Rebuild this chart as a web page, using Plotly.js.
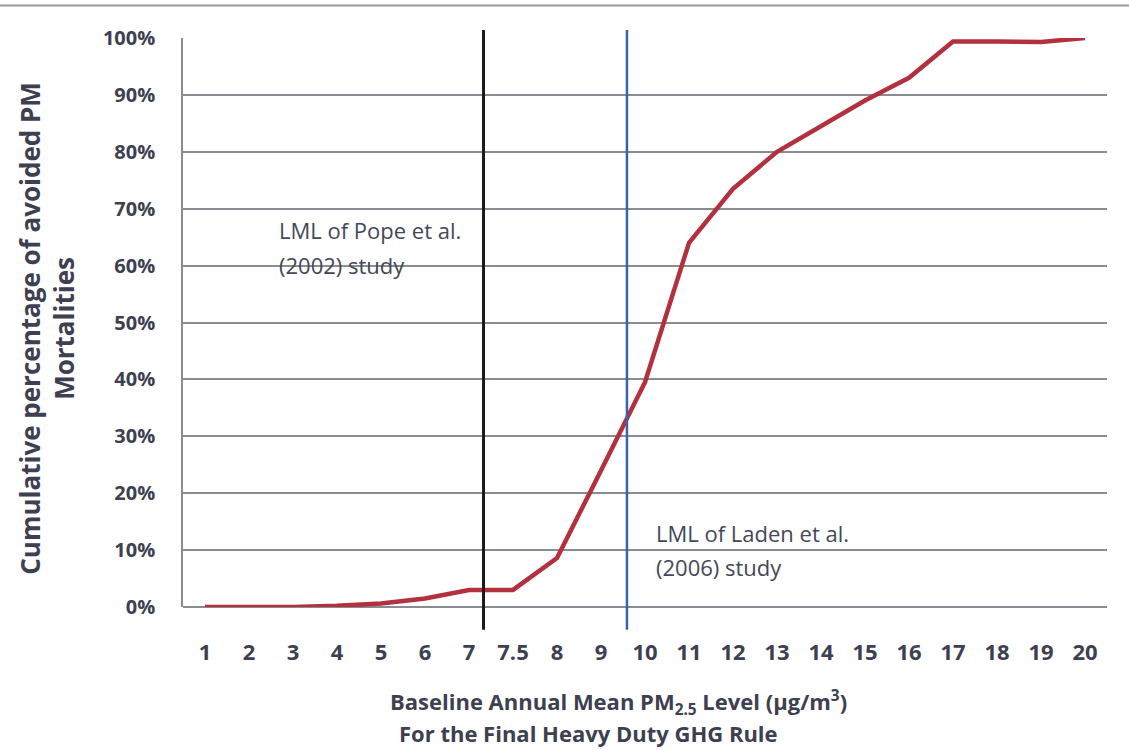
<!DOCTYPE html>
<html>
<head>
<meta charset="utf-8">
<script src="https://cdn.plot.ly/plotly-3.0.1.min.js"></script>
<style>
  html, body { margin: 0; padding: 0; background: #ffffff; }
  #chart { width: 1129px; height: 750px; }
</style>
</head>
<body>
<div id="chart"></div>
<script>
// Categories: baseline annual mean PM2.5 level (µg/m³)
const pmLevels = ['1','2','3','4','5','6','7','7.5','8','9','10','11','12','13','14','15','16','17','18','19','20'];
// Cumulative percentage of avoided PM mortalities (%)
const cumulativePct = [0, 0, 0, 0.2, 0.6, 1.5, 3.0, 3.0, 8.6, 24, 39.5, 64, 73.5, 80, 84.5, 89, 93, 99.4, 99.4, 99.3, 100];
// Y tick values (%)
const yTicks = [0, 10, 20, 30, 40, 50, 60, 70, 80, 90, 100];
// Lowest measured levels (LML), as positions on the category axis (index)
const lmlStudies = ['Pope et al.', 'Laden et al.'];
const lmlYears = ['(2002) study', '(2006) study'];
const lmlPositions = [6.33, 9.59];
const lmlColors = ['#1a1a1a', '#3a62a8'];

const fontFam = '"Open Sans", Lato, sans-serif';
const textCol = '#3d4050';

const trace = {
  type: 'scatter',
  mode: 'lines',
  x: pmLevels,
  y: cumulativePct,
  line: { color: '#b3303e', width: 4.5 },
  cliponaxis: false,
  hoverinfo: 'x+y'
};

const shapes = lmlPositions.map((p, i) => ({
  type: 'line',
  xref: 'x', yref: 'paper',
  x0: p, x1: p,
  y0: -0.04, y1: 1.014,
  line: { color: lmlColors[i], width: i === 0 ? 3 : 2.5 }
}));
// top border of the figure
shapes.push({
  type: 'line', xref: 'paper', yref: 'paper',
  x0: -0.2, x1: 1.03, y0: 1.057, y1: 1.057,
  line: { color: '#9a9a9a', width: 2 }
});

function note(text, x, y, size, bold, color) {
  return {
    xref: 'paper', yref: 'paper', x: x, y: y,
    xanchor: 'left', yanchor: 'middle', showarrow: false, align: 'left',
    text: text,
    font: { family: fontFam, size: size, color: color, weight: bold ? 'bold' : 'normal' }
  };
}

const annotations = [
  {
    xref: 'paper', yref: 'paper',
    x: -0.1466, y: 0.49,
    xanchor: 'center', yanchor: 'middle',
    textangle: -90,
    showarrow: false,
    align: 'center',
    text: 'Cumulative percentage of avoided PM<br>Mortalities',
    font: { family: fontFam, size: 26, color: textCol, weight: 'bold' }
  },
  note('Baseline Annual Mean PM<sub>2.5</sub> Level (µg/m<sup>3</sup>)', 0.2219, -0.167, 22, true, textCol),
  note('For the Final Heavy Duty GHG Rule', 0.2316, -0.2215, 22, true, textCol),
  note('LML of ' + lmlStudies[0], 0.102, 0.662, 22, false, '#434858'),
  note(lmlYears[0], 0.102, 0.601, 22, false, '#434858'),
  note('LML of ' + lmlStudies[1], 0.510, 0.130, 22, false, '#434858'),
  note(lmlYears[1], 0.510, 0.0703, 22, false, '#434858')
];

const layout = {
  width: 1129,
  height: 750,
  margin: { l: 183, r: 22, t: 38, b: 143 },
  paper_bgcolor: '#ffffff',
  plot_bgcolor: '#ffffff',
  showlegend: false,
  font: { family: fontFam, color: textCol },
  xaxis: {
    type: 'category',
    range: [-0.5, 20.5],
    showgrid: false,
    zeroline: false,
    showline: false,
    ticks: '',
    ticklabelstandoff: 30,
    tickfont: { family: fontFam, size: 22, color: textCol, weight: 'bold' }
  },
  yaxis: {
    range: [0, 100],
    tickmode: 'array',
    tickvals: yTicks,
    ticktext: yTicks.map(v => v + '%'),
    showgrid: true,
    gridcolor: '#8a8c94',
    gridwidth: 1.5,
    zeroline: true,
    zerolinecolor: '#8a8c94',
    zerolinewidth: 1.5,
    showline: true,
    linecolor: '#8a8c94',
    linewidth: 1.5,
    ticks: '',
    ticklabelstandoff: 22,
    tickfont: { family: fontFam, size: 20, color: textCol, weight: 'bold' }
  },
  shapes: shapes,
  annotations: annotations
};

Plotly.newPlot('chart', [trace], layout, { displayModeBar: false, responsive: false });
</script>
</body>
</html>
